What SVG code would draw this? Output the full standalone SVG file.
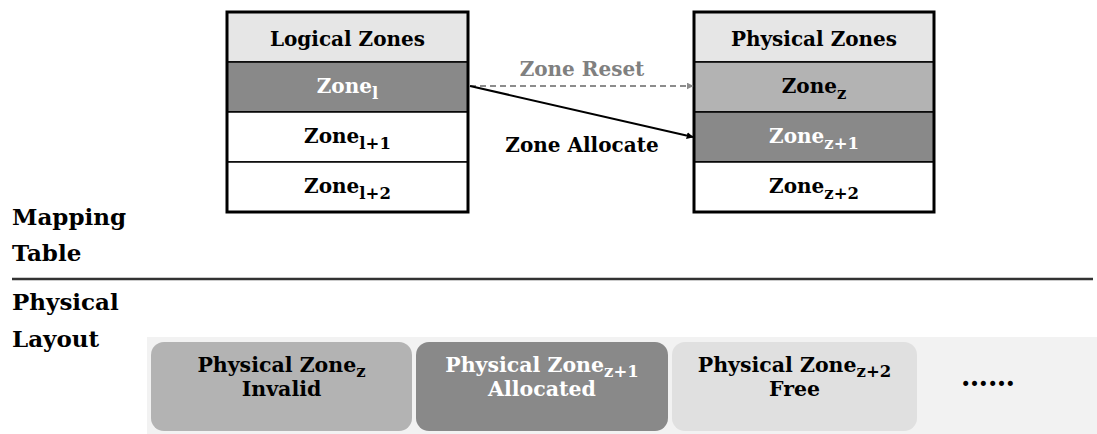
<svg xmlns="http://www.w3.org/2000/svg" width="1097" height="434" viewBox="0 0 1097 434">
<style>
text{font-family:"DejaVu Serif","Liberation Serif",serif;font-weight:bold;fill:#000}
.c{text-anchor:middle;font-size:20px}
.b{text-anchor:middle;font-size:20.5px}
.w{fill:#fff}
.sub{font-size:16.5px}
.side{font-size:23px}
.cell{stroke:#000;stroke-width:1.5}
</style>
<defs>
<marker id="ab" viewBox="0 0 10 10" refX="9" refY="5" markerWidth="7" markerHeight="7" orient="auto" markerUnits="userSpaceOnUse"><path d="M0,0 L10,5 L0,10 z" fill="#000"/></marker>
<marker id="ag" viewBox="0 0 10 10" refX="9" refY="5" markerWidth="7" markerHeight="7" orient="auto" markerUnits="userSpaceOnUse"><path d="M0,0 L10,5 L0,10 z" fill="#8c8c8c"/></marker>
</defs>
<rect width="1097" height="434" fill="#fff"/>
<g id="logical-zones">
<rect class="cell" x="227" y="12" width="241" height="50" fill="#e6e6e6"/>
<rect class="cell" x="227" y="62" width="241" height="50" fill="#898989"/>
<rect class="cell" x="227" y="112" width="241" height="50" fill="#fff"/>
<rect class="cell" x="227" y="162" width="241" height="50" fill="#fff"/>
<rect x="227" y="12" width="241" height="200" fill="none" stroke="#000" stroke-width="3"/>
<text class="c" x="347.5" y="46">Logical Zones</text>
<text class="c w" x="347.5" y="93">Zone<tspan class="sub" dy="6">l</tspan></text>
<text class="c" x="347.5" y="143">Zone<tspan class="sub" dy="6">l+1</tspan></text>
<text class="c" x="347.5" y="193">Zone<tspan class="sub" dy="6">l+2</tspan></text>
</g>
<g id="physical-zones">
<rect class="cell" x="694" y="12" width="240" height="50" fill="#e6e6e6"/>
<rect class="cell" x="694" y="62" width="240" height="50" fill="#b3b3b3"/>
<rect class="cell" x="694" y="112" width="240" height="50" fill="#898989"/>
<rect class="cell" x="694" y="162" width="240" height="50" fill="#fff"/>
<rect x="694" y="12" width="240" height="200" fill="none" stroke="#000" stroke-width="3"/>
<text class="c" x="814" y="46">Physical Zones</text>
<text class="c" x="814" y="93">Zone<tspan class="sub" dy="6">z</tspan></text>
<text class="c w" x="814" y="143">Zone<tspan class="sub" dy="6">z+1</tspan></text>
<text class="c" x="814" y="193">Zone<tspan class="sub" dy="6">z+2</tspan></text>
</g>
<g id="connectors">
<line x1="470" y1="86" x2="693" y2="86" stroke="#8c8c8c" stroke-width="2" stroke-dasharray="6,4" marker-end="url(#ag)"/>
<line x1="470" y1="86" x2="693" y2="137" stroke="#000" stroke-width="2" marker-end="url(#ab)"/>
<text class="c" x="582" y="76" style="fill:#808080">Zone Reset</text>
<text class="c" x="582" y="152">Zone Allocate</text>
</g>
<g id="labels">
<text class="side" x="12" y="225">Mapping</text>
<text class="side" x="12" y="261">Table</text>
<line x1="12" y1="279" x2="1093" y2="279" stroke="#333" stroke-width="2.5"/>
<text class="side" x="12" y="310">Physical</text>
<text class="side" x="12" y="347">Layout</text>
</g>
<g id="physical-layout">
<rect x="147" y="337" width="950" height="97" fill="#f2f2f2"/>
</g>
<g id="pz-invalid">
<rect x="151" y="342" width="261" height="89" rx="13" fill="#b3b3b3"/>
<text class="b" x="281.5" y="372">Physical Zone<tspan class="sub" dy="5">z</tspan></text>
<text class="b" x="281.5" y="396">Invalid</text>
</g>
<g id="pz-allocated">
<rect x="416" y="342" width="252" height="89" rx="13" fill="#898989"/>
<text class="b w" x="542" y="372">Physical Zone<tspan class="sub" dy="5">z+1</tspan></text>
<text class="b w" x="542" y="396">Allocated</text>
</g>
<g id="pz-free">
<rect x="672" y="342" width="245" height="89" rx="13" fill="#e0e0e0"/>
<text class="b" x="794.5" y="372">Physical Zone<tspan class="sub" dy="5">z+2</tspan></text>
<text class="b" x="794.5" y="396">Free</text>
</g>
<g id="more">
<text class="c" x="988" y="386" style="font-size:27px">……</text>
</g>
</svg>
